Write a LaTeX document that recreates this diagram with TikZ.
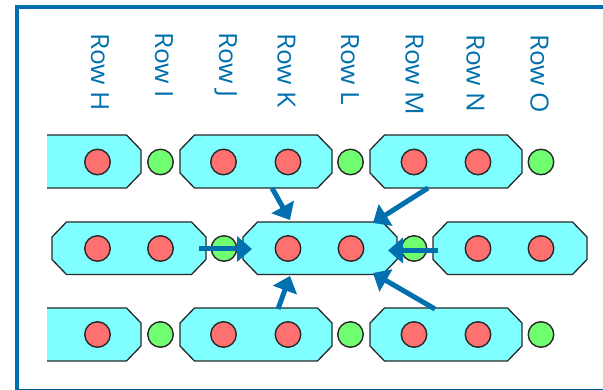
\documentclass[tikz,border=0pt]{standalone}
\usepackage{fontspec}
\setmainfont{Open Sans}
\usetikzlibrary{arrows.meta}
\definecolor{bluec}{HTML}{0071AE}
\definecolor{pillc}{HTML}{7FFFFF}
\definecolor{redc}{HTML}{FF7070}
\definecolor{greenc}{HTML}{70FF70}
\definecolor{edgec}{HTML}{282828}
\tikzset{
  pillshape/.style={draw=edgec, fill=pillc, line width=1.3pt, line join=round},
  dotbase/.style={circle, draw=edgec, line width=1.4pt, minimum size=25.5pt, inner sep=0pt, outer sep=0pt},
  reddot/.style={dotbase, fill=redc},
  greendot/.style={dotbase, fill=greenc},
  rowlabel/.style={anchor=base west, rotate=-90, inner sep=0pt, text=bluec, font=\fontsize{25}{25}\selectfont, xscale=1.05},
  flow/.style={draw=bluec, line width=5pt, -{Triangle[length=15pt,width=25pt]}},
  framec/.style={draw=bluec, line width=3.8pt}
}
% full pill: left, right, top, bottom
\newcommand{\pillfull}[4]{\path[pillshape] ({#1+14.5},#3) -- ({#2-14.5},#3) -- (#2,{#3+15}) -- (#2,{#4-15}) -- ({#2-14.5},#4) -- ({#1+14.5},#4) -- (#1,{#4-15}) -- (#1,{#3+15}) -- cycle;}
% pill cut off at the left, no left side stroke
\newcommand{\pillcut}[4]{\fill[pillc] (#1,#3) -- ({#2-14.5},#3) -- (#2,{#3+15}) -- (#2,{#4-15}) -- ({#2-14.5},#4) -- (#1,#4) -- cycle;
\draw[draw=edgec, line width=1.3pt, line join=round] (#1,#3) -- ({#2-14.5},#3) -- (#2,{#3+15}) -- (#2,{#4-15}) -- ({#2-14.5},#4) -- (#1,#4);}
\begin{document}
\begin{tikzpicture}[x=1pt,y=-1pt]
\useasboundingbox (0,0) rectangle (603,390);
\fill[white] (0,0) rectangle (603,390);
% pills
\pillcut{47}{141}{135}{188}
\pillfull{180}{332}{135}{188}
\pillfull{370}{522}{135}{188}
\pillfull{52}{206}{222}{274.5}
\pillfull{243}{397}{222}{274.5}
\pillfull{433}{587}{222}{274.5}
\pillcut{47}{141}{308}{361}
\pillfull{180}{332}{308}{361}
\pillfull{370}{522}{308}{361}
% dots row 1
\node[reddot] (r1a) at (97.5,162) {};
\node[greendot] (g1a) at (160.5,162) {};
\node[reddot] (r1b) at (223.5,162) {};
\node[reddot] (r1c) at (288,162) {};
\node[greendot] (g1b) at (350.5,162) {};
\node[reddot] (r1d) at (414,162) {};
\node[reddot] (r1e) at (478,162) {};
\node[greendot] (g1c) at (541,162) {};
% dots row 2
\node[reddot] (r2a) at (97.5,248.5) {};
\node[reddot] (r2b) at (160.5,248.5) {};
\node[greendot] (g2a) at (224,248.5) {};
\node[reddot] (r2c) at (288,248.5) {};
\node[reddot] (r2d) at (351,248.5) {};
\node[greendot] (g2b) at (414,248.5) {};
\node[reddot] (r2e) at (478,248.5) {};
\node[reddot] (r2f) at (541,248.5) {};
% dots row 3
\node[reddot] (r3a) at (97.5,334.5) {};
\node[greendot] (g3a) at (160.5,334.5) {};
\node[reddot] (r3b) at (223.5,334.5) {};
\node[reddot] (r3c) at (288,334.5) {};
\node[greendot] (g3b) at (350.5,334.5) {};
\node[reddot] (r3d) at (414,334.5) {};
\node[reddot] (r3e) at (478,334.5) {};
\node[greendot] (g3c) at (541,334.5) {};
% labels
\node[rowlabel] (lh) at (91,33) {Row H};
\node[rowlabel] (li) at (155,32) {Row I};
\node[rowlabel] (lj) at (219,32) {Row J};
\node[rowlabel] (lk) at (277.5,33) {Row K};
\node[rowlabel] (ll) at (341,33) {Row L};
\node[rowlabel] (lm) at (405.5,33) {Row M};
\node[rowlabel] (ln) at (466.5,34) {Row N};
\node[rowlabel] (lo) at (530.5,34) {Row O};
% connectors
\coordinate (s1) at (272,188);
\coordinate (t1) at (290,220);
\coordinate (s2) at (428,188);
\coordinate (t2) at (373,223);
\coordinate (s3) at (199,249);
\coordinate (t3) at (252,249);
\coordinate (s4) at (438,250.5);
\coordinate (t4) at (388,250.5);
\coordinate (s5) at (435,309);
\coordinate (t5) at (373,273);
\coordinate (s6) at (278,309);
\coordinate (t6) at (290,276);
\draw[flow] (s1) -- (t1);
\draw[flow] (s2) -- (t2);
\draw[flow] (s3) -- (t3);
\draw[flow] (s4) -- (t4);
\draw[flow] (s5) -- (t5);
\draw[flow] (s6) -- (t6);
% frame
\draw[framec] (603,7.3) -- (17.3,7.3) -- (17.3,390);
\draw[draw=bluec!80!black, line width=1pt] (17.3,389.3) -- (603,389.3);
\end{tikzpicture}
\end{document}
